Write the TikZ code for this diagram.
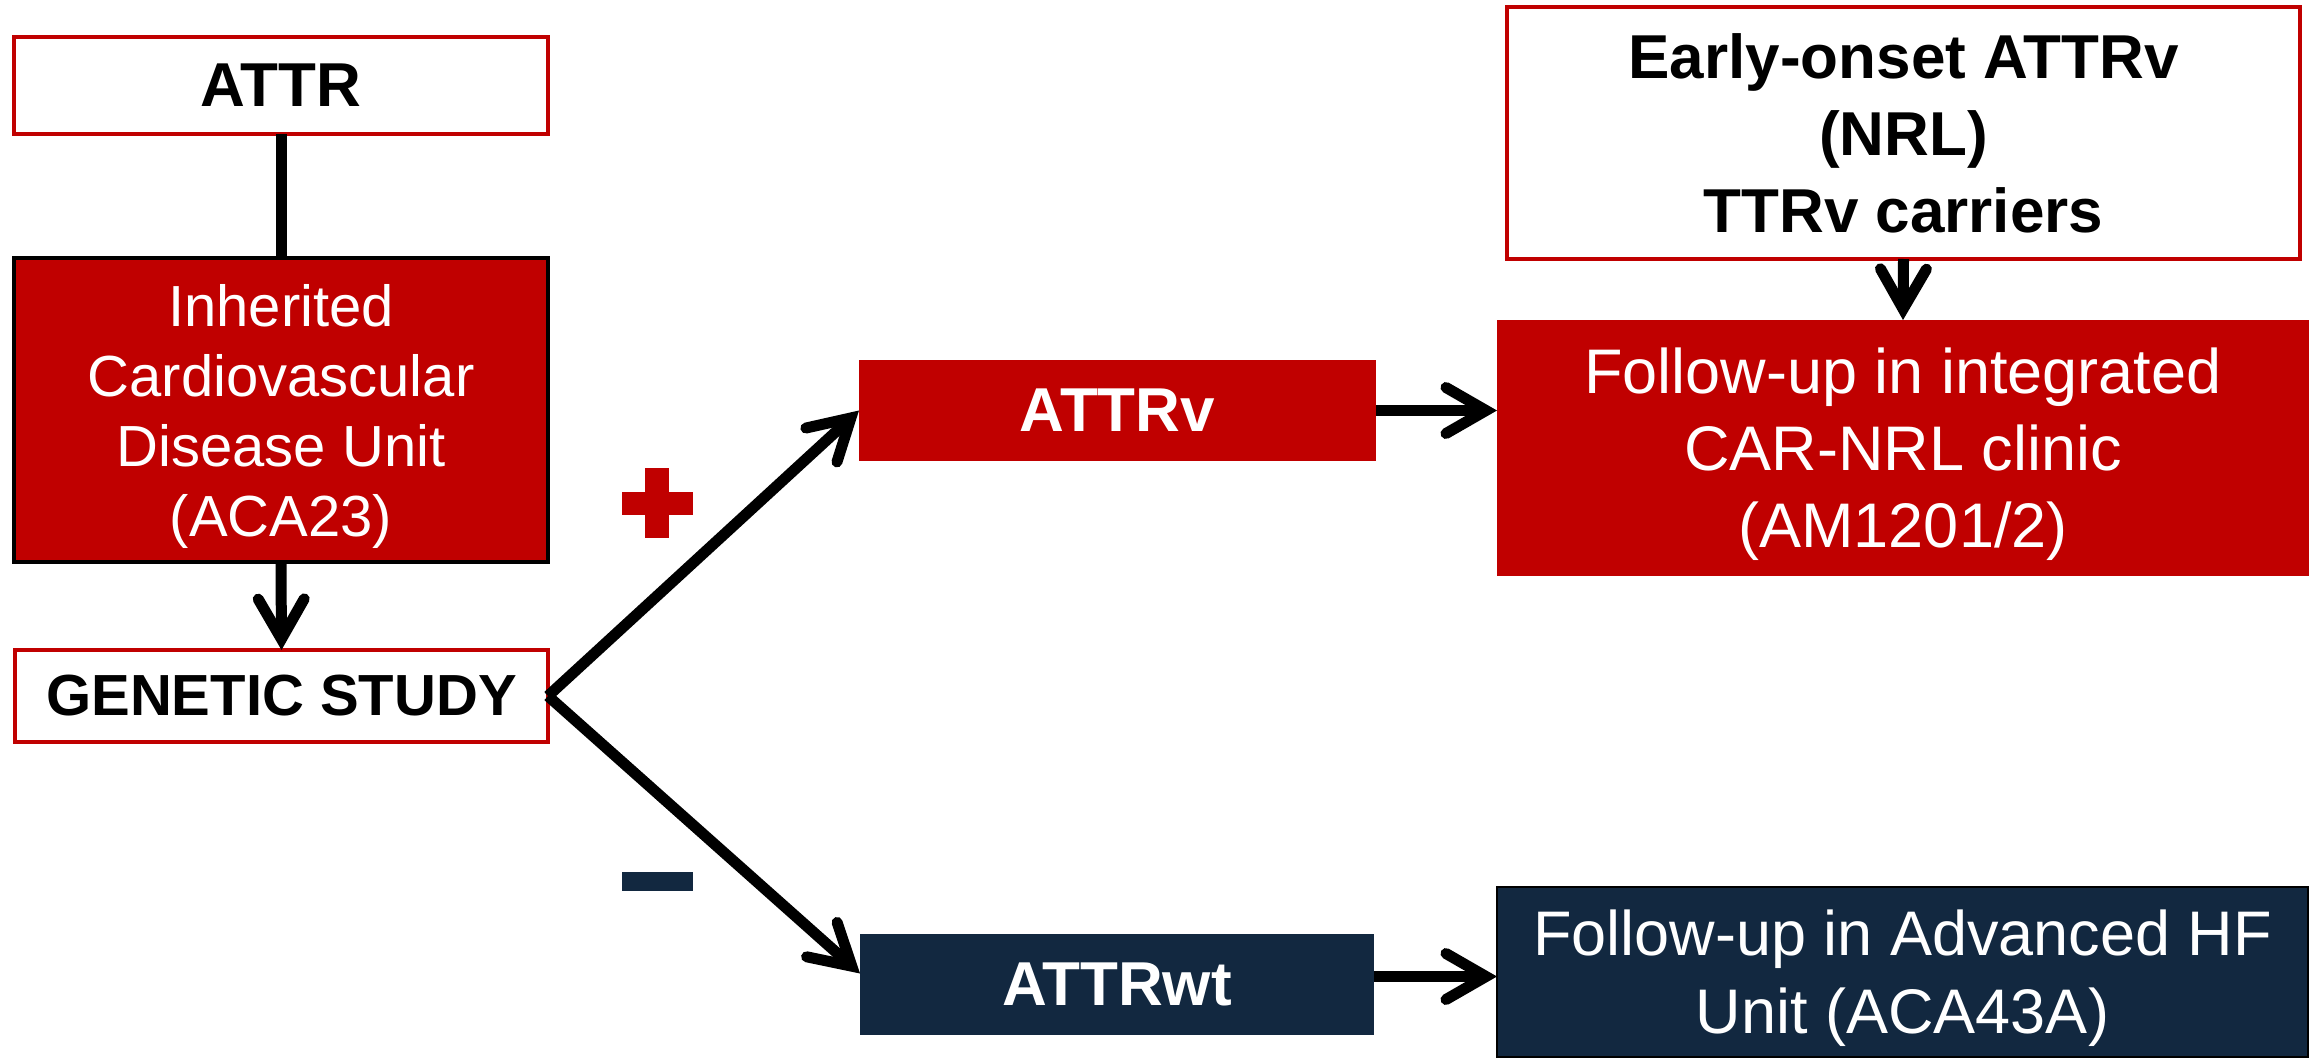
\documentclass[tikz,border=0pt]{standalone}
\usepackage{fontspec}
\setmainfont{Liberation Sans}
\usetikzlibrary{arrows.meta}
\definecolor{cvred}{HTML}{C00000}
\definecolor{cvnavy}{RGB}{18,40,64}

\begin{document}
\begin{tikzpicture}[x=1pt,y=-1pt,
  box/.style={rectangle, inner sep=0pt, outer sep=0pt, align=center, line width=3.5pt},
  outlinebox/.style={box, draw=cvred, fill=white, text=black, font=\fontsize{62}{77}\selectfont\bfseries},
  redbox/.style={box, fill=cvred, text=white},
  navybox/.style={box, fill=cvnavy, text=white},
  conn/.style={line width=11pt, draw=black},
  arr/.style={conn, -{Straight Barb[length=40pt, width=46pt, line cap=round, line join=miter]}},
]
% canvas
\fill[white] (0,0) rectangle (2312,1059);
\useasboundingbox (0,0) rectangle (2312,1059);

% left column
\node[outlinebox, minimum width=534pt, minimum height=97pt] (attr) at (281,85.5) {ATTR};
\node[redbox, draw=black, minimum width=534pt, minimum height=304pt, text depth=0pt,
      font=\fontsize{58}{70}\selectfont] (icdu) at (281,410)
      {Inherited\\Cardiovascular\\Disease Unit\\(ACA23)};
\node[outlinebox, minimum width=533pt, minimum height=92pt,
      font=\fontsize{58}{70}\selectfont\bfseries] (gen) at (281.5,696) {GENETIC STUDY};

% genetic result
\node[redbox, minimum width=517pt, minimum height=101pt,
      font=\fontsize{62}{77}\selectfont\bfseries] (attrv) at (1117.5,410.5) {ATTRv};
\node[navybox, minimum width=514pt, minimum height=101pt,
      font=\fontsize{62}{77}\selectfont\bfseries] (attrwt) at (1117,984.5) {ATTRwt};

% follow-up
\node[outlinebox, minimum width=793pt, minimum height=252pt] (early) at (1903.5,133)
      {Early-onset ATTRv\\(NRL)\\TTRv carriers};
\node[redbox, minimum width=812pt, minimum height=256pt, text depth=0pt,
      font=\fontsize{63}{77}\selectfont] (fuint) at (1903,448)
      {Follow-up in integrated\\CAR-NRL clinic\\(AM1201/2)};
\node[navybox, draw=black, line width=2.5pt, minimum width=811pt, minimum height=170pt,
      text depth=0pt, font=\fontsize{63}{78}\selectfont] (fuhf) at (1902.5,972)
      {Follow-up in Advanced HF\\Unit (ACA43A)};

% connectors
\draw[conn] (attr.south) -- (icdu.north);
\draw[arr] (icdu.south) -- (gen.north);
\draw[arr] (gen.east) -- (attrv.west);
\draw[arr] (gen.east) -- ([yshift=11pt]attrwt.west);
\draw[arr] (attrv.east) -- (attrv.east -| fuint.west);
\draw[arr] (early.south) -- (fuint.north);
\draw[arr] ([yshift=8pt]attrwt.east) -- ([yshift=8pt]attrwt.east -| fuhf.west);

% result signs
\fill[cvred] (645,468) rectangle (669,538);
\fill[cvred] (622,492) rectangle (693,515);
\fill[cvnavy] (622,872) rectangle (693,891);
\end{tikzpicture}
\end{document}
